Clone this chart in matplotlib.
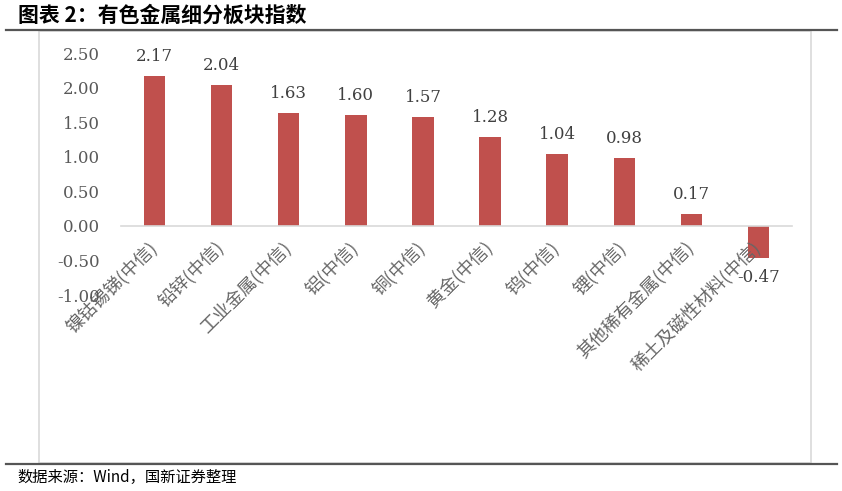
import matplotlib
matplotlib.use("Agg")
import matplotlib.pyplot as plt
from matplotlib.lines import Line2D
from matplotlib.patches import Rectangle

plt.rcParams['font.family'] = ['Noto Sans CJK SC', 'DejaVu Sans']

categories = ["镍钴锡锑(中信)", "铅锌(中信)", "工业金属(中信)", "铝(中信)", "铜(中信)",
              "黄金(中信)", "钨(中信)", "锂(中信)", "其他稀有金属(中信)", "稀土及磁性材料(中信)"]
values = [2.17, 2.04, 1.63, 1.60, 1.57, 1.28, 1.04, 0.98, 0.17, -0.47]
yticks = [-1.0, -0.5, 0.0, 0.5, 1.0, 1.5, 2.0, 2.5]

barColor = "#C0504D"
tickColor = "#595959"

W, H = 842, 491
fig = plt.figure(figsize=(W/100, H/100), dpi=100)

def fx(px):
    return px/W

def fy(py):
    return 1 - py/H

# outer frame and rules
fig.add_artist(Rectangle((fx(39), fy(463)), fx(811)-fx(39), fy(31)-fy(463),
                         transform=fig.transFigure, fill=False, edgecolor="#d9d9d9", lw=1.2))
fig.add_artist(Line2D([fx(6), fx(837)], [fy(30), fy(30)], transform=fig.transFigure, color="#555555", lw=1.6))
fig.add_artist(Line2D([fx(6), fx(837)], [fy(464), fy(464)], transform=fig.transFigure, color="#555555", lw=1.6))

fig.text(fx(18), fy(15), "图表 2：有色金属细分板块指数", fontsize=15, weight="bold", va="center")
fig.text(fx(17), fy(477), "数据来源：Wind，国新证券整理", fontsize=11, va="center")

ax = fig.add_axes([fx(121), fy(295), fx(792)-fx(121), fy(53)-fy(295)])
x = range(len(values))
bars = ax.bar(x, values, width=0.32, color=barColor)
ax.set_xlim(-0.5, len(values)-0.5)
ax.set_ylim(-1.0, 2.5)

ax.set_yticks(yticks)
ax.set_yticklabels([f"{v:.2f}" for v in yticks])
ax.tick_params(axis="y", length=0, pad=15, labelcolor=tickColor, labelsize=12,
               labelfontfamily="DejaVu Serif")

for s in ["left", "top", "right"]:
    ax.spines[s].set_visible(False)
ax.spines["bottom"].set_position(("data", 0))
ax.spines["bottom"].set_color("#d9d9d9")
ax.spines["bottom"].set_linewidth(1.2)

ax.set_xticks(list(x))
ax.set_xticklabels(categories, rotation=45, ha="right", va="center", rotation_mode="anchor")
ax.tick_params(axis="x", length=0, pad=14, labelcolor="#666666", labelsize=13)

for b, v in zip(bars, values):
    off = 8 if v >= 0 else -8
    ax.annotate(f"{v:.2f}", (b.get_x() + b.get_width()/2, v), xytext=(0, off),
                textcoords="offset points", ha="center", va="bottom" if v >= 0 else "top",
                family="DejaVu Serif", fontsize=12, color="#404040")

fig.savefig("out.png", dpi=100)
